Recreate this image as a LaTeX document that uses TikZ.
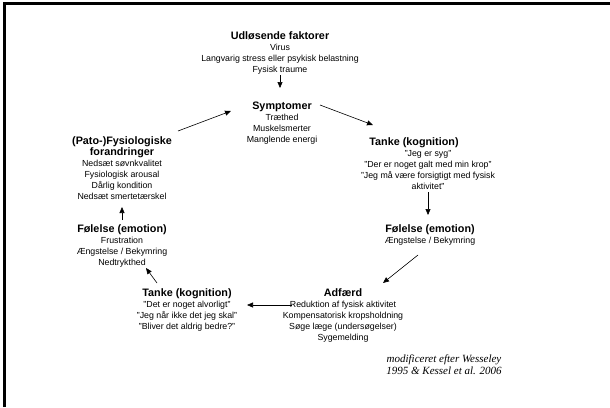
\documentclass[tikz,border=0pt]{standalone}
\usepackage{fontspec}
\setmainfont{Liberation Sans}
\newfontfamily\citefont{Liberation Serif}
\usepackage{tikz}
\usetikzlibrary{arrows.meta}

\begin{document}
\begin{tikzpicture}[x=1pt,y=-1pt]

	\tikzstyle box=[anchor=north, align=center, inner sep=0pt, font=\fontsize{8.8}{11}\selectfont];
	\tikzstyle cycle arrow=[line width=0.6pt, -{Triangle[length=6pt,width=5pt]}];
	\tikzstyle frame=[line width=3pt];
	\newcommand{\boxtitle}[1]{{\fontsize{10.8}{12}\selectfont\bfseries #1}}

	\useasboundingbox (0,0) rectangle (610,407);
	\draw[frame] (4.5,407) -- (4.5,3.8) -- (610,3.8);

	
	\node[box] (udl) at (280,31) {\boxtitle{Udløsende faktorer}\\Virus\\Langvarig stress eller psykisk belastning\\Fysisk traume};
	\node[box] (sym) at (282,102) {\boxtitle{Symptomer}\\Træthed\\Muskelsmerter\\Manglende energi};
	\node[box] (tanke1) at (428,137) {\boxtitle{Tanke (kognition)}\hspace*{28pt}\\"Jeg er syg"\\"Der er noget galt med min krop"\\"Jeg må være forsigtigt med fysisk\\aktivitet"};
	\node[box] (fol1) at (430,224) {\boxtitle{Følelse (emotion)}\\Ængstelse / Bekymring};
	\node[box] (adf) at (343,288) {\boxtitle{Adfærd}\\Reduktion af fysisk aktivitet\\Kompensatorisk kropsholdning\\Søge læge (undersøgelser)\\Sygemelding};
	\node[box] (tanke2) at (187,288) {\boxtitle{Tanke (kognition)}\\"Det er noget alvorligt"\\"Jeg når ikke det jeg skal"\\"Bliver det aldrig bedre?"};
	\node[box] (fol2) at (122,224) {\boxtitle{Følelse (emotion)}\\Frustration\\Ængstelse / Bekymring\\Nedtrykthed};
	\node[box] (pato) at (122,136) {\boxtitle{(Pato-)Fysiologiske}\\\boxtitle{forandringer}\\Nedsæt søvnkvalitet\\Fysiologisk arousal\\Dårlig kondition\\Nedsæt smertetærskel};
	\node[box, font=\fontsize{11}{12}\selectfont\citefont\itshape] (cite) at (444,355) {modificeret efter Wesseley\\1995 \& Kessel et al. 2006};

	
	\draw[cycle arrow] ([shift={(0,44)}]udl.north) -- ([shift={(-2,-14)}]sym.north);
	\draw[cycle arrow] ([shift={(38,3)}]sym.north) -- ([shift={(-55,-12)}]tanke1.north);
	\draw[cycle arrow] ([shift={(0,55)}]tanke1.north) -- ([shift={(-2,-9)}]fol1.north);
	\draw[cycle arrow] ([shift={(-12,31)}]fol1.north) -- ([shift={(40,-5)}]adf.north);
	\draw[cycle arrow] ([shift={(-51,17)}]adf.north) -- ([shift={(60,17)}]tanke2.north);
	\draw[cycle arrow] ([shift={(-30,-5)}]tanke2.north) -- ([shift={(24,44)}]fol2.north);
	\draw[cycle arrow] ([shift={(0,-4)}]fol2.north) -- ([shift={(0,71)}]pato.north);
	\draw[cycle arrow] ([shift={(56,-5)}]pato.north) -- ([shift={(-51,9)}]sym.north);

\end{tikzpicture}
\end{document}
